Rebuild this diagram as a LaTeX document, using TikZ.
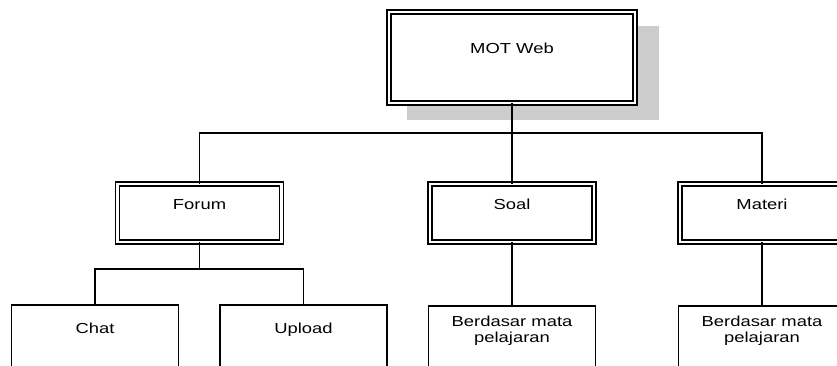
\documentclass[tikz,border=0pt]{standalone}
\usepackage{fontspec}
\setmainfont{Liberation Sans}[FakeStretch=1.27]
\definecolor{shadowgray}{HTML}{CCCCCC}
\begin{document}
\begin{tikzpicture}[x=1pt,y=-1pt,
  every node/.style={font=\fontsize{14.5pt}{16pt}\selectfont, inner sep=0pt, outer sep=0pt},
  dbox/.style={draw, line width=1.7pt, double, double distance=2.4pt, fill=white, minimum width=164pt},
  sbox/.style={draw, line width=1.7pt, fill=white, minimum width=167pt},
  conn/.style={line width=1.7pt}]
\useasboundingbox (0,0) rectangle (837,365);
\clip (0,0) rectangle (837,365);
% shadow
\fill[shadowgray] (407,26) rectangle (659,120);
% nodes
\node[dbox, minimum width=246pt, text height=41pt, text depth=50pt, anchor=north] (mot) at (512,12) {MOT Web};
\node[dbox, text height=25pt, text depth=33pt, anchor=north] (forum) at (199.5,184) {Forum};
\node[dbox, text height=25pt, text depth=33pt, anchor=north] (soal) at (512,184) {Soal};
\node[dbox, text height=25pt, text depth=33pt, anchor=north] (materi) at (762,184) {Materi};
\node[sbox, text height=28pt, text depth=57pt, anchor=north] (chat) at (95,305) {Chat};
\node[sbox, text height=28pt, text depth=57pt, anchor=north] (upload) at (303.5,305) {Upload};
\node[sbox, text height=20pt, text depth=64pt, anchor=north] (bsoal) at (512,306) {\begin{tabular}[t]{@{}c@{}}Berdasar mata\\pelajaran\end{tabular}};
\node[sbox, text height=20pt, text depth=64pt, anchor=north] (bmateri) at (762,306) {\begin{tabular}[t]{@{}c@{}}Berdasar mata\\pelajaran\end{tabular}};
% bars
\coordinate (topbar) at (0,133);
\coordinate (fbar) at (0,269);
% connectors
\draw[conn] (mot.south) -- (mot.south |- topbar);
\draw[conn] (forum.north) |- (mot.south |- topbar);
\draw[conn] (soal.north) -- (soal.north |- topbar);
\draw[conn] (materi.north) |- (mot.south |- topbar);
\draw[conn] (forum.south) -- (forum.south |- fbar);
\draw[conn] (chat.north) |- (forum.south |- fbar);
\draw[conn] (upload.north) |- (forum.south |- fbar);
\draw[conn] (soal.south) -- (bsoal.north);
\draw[conn] (materi.south) -- (bmateri.north);
\end{tikzpicture}
\end{document}
